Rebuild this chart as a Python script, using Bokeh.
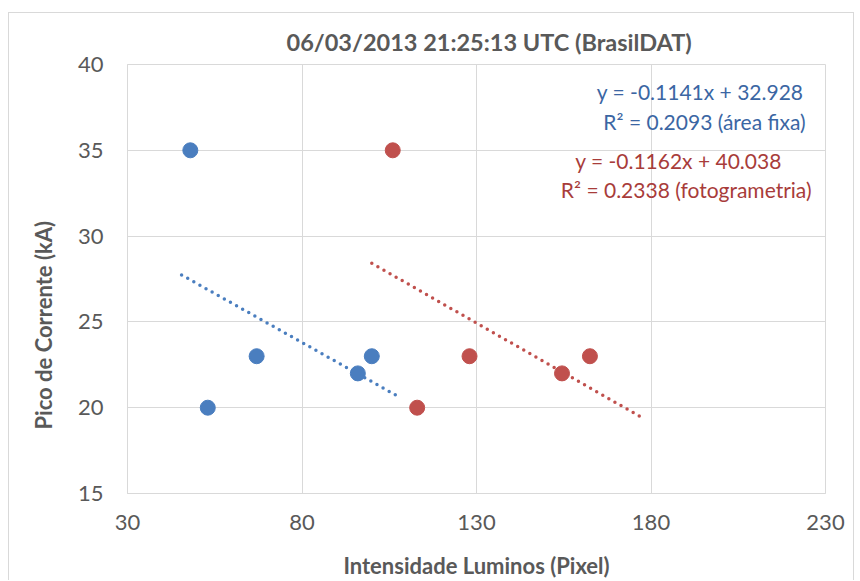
from bokeh.plotting import figure
from bokeh.models import FixedTicker, Label, Title
from bokeh.embed import file_html
from bokeh.resources import INLINE

# Data
blue_x = [48, 53, 67, 96, 100]
blue_y = [35, 20, 23, 22, 23]
red_x = [106, 113, 128, 154.5, 162.5]
red_y = [35, 20, 23, 22, 23]

blue_fit = (-0.1141, 32.928)
red_fit = (-0.1162, 40.038)
blue_trend_x = [45.5, 107]
red_trend_x = [100, 177.5]

x_ticks = [30, 80, 130, 180, 230]
y_ticks = [15, 20, 25, 30, 35, 40]

title_text = "06/03/2013 21:25:13 UTC (BrasilDAT)"
x_title = "Intensidade Luminos (Pixel)"
y_title = "Pico de Corrente (kA)"
blue_eq = ["y = -0.1141x + 32.928", "R\u00b2 = 0.2093 (\u00e1rea fixa)"]
red_eq = ["y = -0.1162x + 40.038", "R\u00b2 = 0.2338 (fotogrametria)"]

FONT = "Lato"
GRID = "#d9d9d9"
TXT = "#595959"
BLUE = "#4a7ebf"
RED = "#c0504d"
BLUE_T = "#3b66a3"
RED_T = "#a83c3a"

p = figure(width=846, height=568, output_backend="svg", toolbar_location=None,
           x_range=(30, 230), y_range=(15, 40),
           min_border_left=118, min_border_right=30, min_border_top=51, min_border_bottom=87)
p.styles = {"border-left": "1px solid #d9d9d9", "border-top": "1px solid #d9d9d9",
            "border-right": "1px solid #d9d9d9", "margin-top": "12px", "margin-left": "8px"}

p.title = Title(text=title_text, align="left", text_font=FONT, text_font_size="23.5px",
                text_color=TXT, text_font_style="bold", standoff=18, offset=159)

p.xaxis.ticker = FixedTicker(ticks=x_ticks)
p.yaxis.ticker = FixedTicker(ticks=y_ticks)
for ax in (p.xaxis, p.yaxis):
    ax.axis_line_color = GRID
    ax.major_tick_line_color = None
    ax.minor_tick_line_color = None
    ax.major_label_text_font = FONT
    ax.major_label_text_font_size = "22px"
    ax.major_label_text_color = TXT
    ax.axis_label_text_font = FONT
    ax.axis_label_text_font_size = "22px"
    ax.axis_label_text_font_style = "bold"
    ax.axis_label_text_color = TXT
p.xaxis.axis_label = x_title
p.xaxis.major_label_standoff = 15
p.yaxis.major_label_standoff = 18
p.xaxis.axis_label_standoff = 19

# y-axis title, placed as in the reference (lower than the frame centre)
p.add_layout(Title(text=y_title, align="left", offset=64, standoff=36, text_font=FONT,
                   text_font_size="22px", text_font_style="bold", text_color=TXT), "left")

p.xgrid.grid_line_color = GRID
p.ygrid.grid_line_color = GRID
p.outline_line_color = GRID

def trend(xs, fit):
    return [fit[0] * x + fit[1] for x in xs]

p.line(blue_trend_x, trend(blue_trend_x, blue_fit), line_color=BLUE, line_width=3.5,
       line_dash="0 7", line_cap="round")
p.line(red_trend_x, trend(red_trend_x, red_fit), line_color=RED, line_width=3.5,
       line_dash="0 7", line_cap="round")

p.scatter(blue_x, blue_y, size=15, fill_color=BLUE, line_color=BLUE)
p.scatter(red_x, red_y, size=15, fill_color=RED, line_color=RED)

for txt, yy, xx in zip(blue_eq, [38.43, 36.69], [223.7, 224.3]):
    p.add_layout(Label(x=xx, y=yy, text=txt, text_align="right", text_baseline="middle",
                       text_font=FONT, text_font_size="21px", text_color=BLUE_T))
for txt, yy, xx in zip(red_eq, [34.42, 32.73], [217.5, 226.0]):
    p.add_layout(Label(x=xx, y=yy, text=txt, text_align="right", text_baseline="middle",
                       text_font=FONT, text_font_size="21px", text_color=RED_T))

open("out.html", "w").write(file_html(p, INLINE))
